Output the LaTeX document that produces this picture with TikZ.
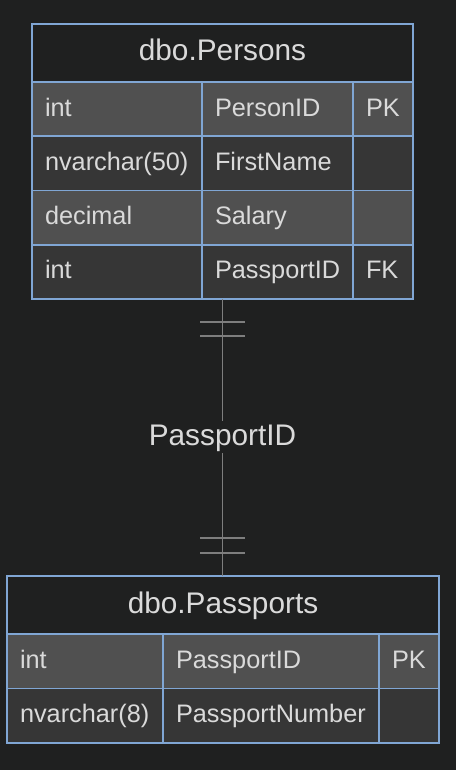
\documentclass[tikz,border=0pt]{standalone}
\usepackage{fontspec}
\setmainfont{Liberation Sans}
\usepackage{xcolor}
\usetikzlibrary{positioning,calc,fit}
\hyphenpenalty=10000
\exhyphenpenalty=10000

\definecolor{bg}{HTML}{1F2020}
\definecolor{rowodd}{HTML}{505050}
\definecolor{roweven}{HTML}{363636}
\definecolor{border}{HTML}{80A6D4}
\definecolor{txt}{HTML}{DADADA}
\definecolor{relline}{HTML}{7E7E7E}

\begin{document}
\begin{tikzpicture}[x=1pt, y=-1pt]
  \tikzstyle{cell}=[rectangle, draw=border, line width=1.8pt, outer sep=0pt, inner xsep=13pt, inner ysep=0pt, minimum height=54.2pt, text=txt, font=\fontsize{25.3}{30}\selectfont, text height=18pt, text depth=4pt, align=left]
  \tikzstyle{head}=[cell, fill=bg, minimum height=58pt, font=\fontsize{29.8}{34}\selectfont, text height=21pt, text depth=5pt, align=center]
  \tikzstyle{odd}=[fill=rowodd]
  \tikzstyle{even}=[fill=roweven]
  \tikzstyle{conn}=[draw=relline, line width=1.8pt]
  \tikzstyle{lbl}=[fill=bg, text=txt, inner xsep=1pt, inner ysep=3pt, font=\fontsize{29.8}{34}\selectfont, text height=21pt, text depth=5pt]

  % Fondo
  \fill[bg] (0,0) rectangle (456,770);
  \useasboundingbox (0,0) rectangle (456,770);

  % dbo.Persons
  \node[head, text width=355pt, anchor=north west] (phead) at (32,24) {dbo.Persons};
  \node[cell, odd, text width=144pt, below=0pt of phead.south west, anchor=north west] (p1a) {int};
  \node[cell, odd, text width=125pt, right=0pt of p1a] (p1b) {PersonID};
  \node[cell, odd, text width=34pt, right=0pt of p1b] (p1c) {PK};
  \node[cell, even, text width=144pt, below=0pt of p1a] (p2a) {nvarchar(50)};
  \node[cell, even, text width=125pt, right=0pt of p2a] (p2b) {FirstName};
  \node[cell, even, text width=34pt, right=0pt of p2b] (p2c) {};
  \node[cell, odd, text width=144pt, below=0pt of p2a] (p3a) {decimal};
  \node[cell, odd, text width=125pt, right=0pt of p3a] (p3b) {Salary};
  \node[cell, odd, text width=34pt, right=0pt of p3b] (p3c) {};
  \node[cell, even, text width=144pt, below=0pt of p3a] (p4a) {int};
  \node[cell, even, text width=125pt, right=0pt of p4a] (p4b) {PassportID};
  \node[cell, even, text width=34pt, right=0pt of p4b] (p4c) {FK};
  \node[fit=(phead)(p4c), inner sep=0pt, outer sep=0pt] (persons) {};

  % dbo.Passports
  \node[head, text width=406pt, anchor=north west] (qhead) at (7,576) {dbo.Passports};
  \node[cell, odd, minimum height=54.5pt, text width=130pt, below=0pt of qhead.south west, anchor=north west] (q1a) {int};
  \node[cell, odd, minimum height=54.5pt, text width=190pt, right=0pt of q1a] (q1b) {PassportID};
  \node[cell, odd, minimum height=54.5pt, text width=34pt, right=0pt of q1b] (q1c) {PK};
  \node[cell, even, minimum height=54.5pt, text width=130pt, below=0pt of q1a] (q2a) {nvarchar(8)};
  \node[cell, even, minimum height=54.5pt, text width=190pt, right=0pt of q2a] (q2b) {PassportNumber};
  \node[cell, even, minimum height=54.5pt, text width=34pt, right=0pt of q2b] (q2c) {};
  \node[fit=(qhead)(q2c), inner sep=0pt, outer sep=0pt] (passports) {};

  % Relacion
  \coordinate (pend) at (persons.south |- passports.north);
  \draw[conn] (persons.south) -- node[lbl] (rel) {PassportID} (pend);
  \draw[conn] ($(persons.south)+(-22.5,23)$) -- ++(45,0);
  \draw[conn] ($(persons.south)+(-22.5,37.5)$) -- ++(45,0);
  \draw[conn] ($(pend)+(-22.5,-38)$) -- ++(45,0);
  \draw[conn] ($(pend)+(-22.5,-23)$) -- ++(45,0);
\end{tikzpicture}
\end{document}
